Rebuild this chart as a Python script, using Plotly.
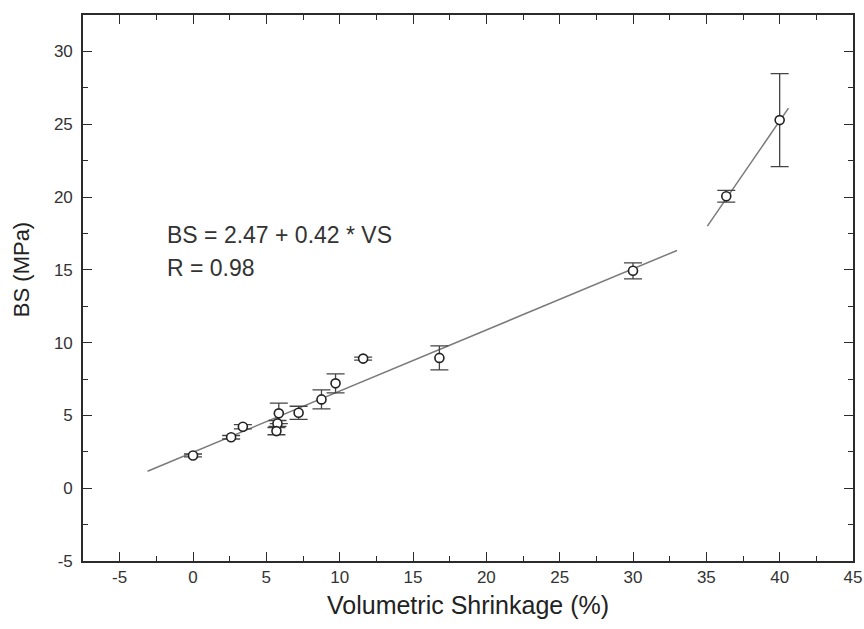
import plotly.graph_objects as go

# Measured data (volumetric shrinkage %, bond strength MPa, error)
vs = [0.0, 2.6, 3.4, 5.85, 5.76, 5.69, 7.2, 8.76, 9.72, 11.6, 16.8, 30.0, 36.36, 40.0]
bs = [2.25, 3.5, 4.22, 5.14, 4.45, 3.92, 5.18, 6.1, 7.2, 8.9, 8.95, 14.93, 20.05, 25.28]
err = [0.1, 0.12, 0.15, 0.7, 0.2, 0.25, 0.45, 0.65, 0.65, 0.1, 0.82, 0.55, 0.4, 3.2]

# Linear fit 1 (as stated in the figure) and its drawn range
fit1_a, fit1_b = 2.47, 0.42
fit1_x = [-3.1, 33.0]
fit1_y = [fit1_a + fit1_b * v for v in fit1_x]

# Second fitted segment (upper range)
fit2_x = [35.07, 40.6]
fit2_y = [18.0, 26.1]

x_ticks = [-5, 0, 5, 10, 15, 20, 25, 30, 35, 40, 45]
y_ticks = [-5, 0, 5, 10, 15, 20, 25, 30]

FONT = "Liberation Sans, Arial, sans-serif"
AX = "#2b2b2b"

fig = go.Figure()
fig.add_trace(go.Scatter(x=fit1_x, y=fit1_y, mode="lines",
                         line=dict(color="#7a7a7a", width=1.5), showlegend=False))
fig.add_trace(go.Scatter(x=fit2_x, y=fit2_y, mode="lines",
                         line=dict(color="#7a7a7a", width=1.5), showlegend=False))
fig.add_trace(go.Scatter(
    x=vs, y=bs, mode="markers",
    marker=dict(symbol="circle", size=9, color="white",
                line=dict(color="#222222", width=1.6)),
    error_y=dict(type="data", array=err, visible=True, color="#444444",
                 thickness=1.3, width=9),
    showlegend=False))

fig.add_annotation(x=-1.93, y=17.36, xref="x", yref="y", xanchor="left", yanchor="middle",
                   text="BS = 2.47 + 0.42 * VS", showarrow=False,
                   font=dict(family=FONT, size=23, color="#333333"))
fig.add_annotation(x=-1.93, y=15.1, xref="x", yref="y", xanchor="left", yanchor="middle",
                   text="R = 0.98", showarrow=False,
                   font=dict(family=FONT, size=23, color="#333333"))

# y-axis title placed as rotated text
fig.add_annotation(x=-0.079, y=0.533, xref="paper", yref="paper",
                   xanchor="center", yanchor="middle", textangle=-90,
                   text="BS (MPa)", showarrow=False,
                   font=dict(family=FONT, size=22, color="#222222"))

axis_common = dict(showline=True, mirror="allticks", linecolor=AX, linewidth=1.6,
                   ticks="inside", ticklen=9, tickwidth=1.4, tickcolor=AX,
                   showgrid=False, zeroline=False, automargin=False,
                   tickfont=dict(family=FONT, size=17, color="#333333"),
                   minor=dict(ticks="inside", ticklen=5, tickwidth=1.2, tickcolor=AX, dtick=2.5,
                              showgrid=False))

fig.update_xaxes(range=[-7.5, 45], tickvals=x_ticks, ticktext=[str(t) for t in x_ticks],
                 title=dict(text="Volumetric Shrinkage (%)", standoff=10,
                            font=dict(family=FONT, size=25, color="#222222")),
                 **axis_common)
fig.update_yaxes(range=[-5, 32.5], tickvals=y_ticks, ticktext=[str(t) for t in y_ticks],
                 ticklabelstandoff=5,
                 **axis_common)

fig.update_layout(width=864, height=629, plot_bgcolor="white", paper_bgcolor="white",
                  margin=dict(l=83, r=11, t=15, b=68), hovermode=False)

# remove the default page margin so the figure fills the window exactly
fig.write_html("out.html", config={"displayModeBar": False},
               post_script="document.body.style.margin='0';document.body.style.overflow='hidden';")
